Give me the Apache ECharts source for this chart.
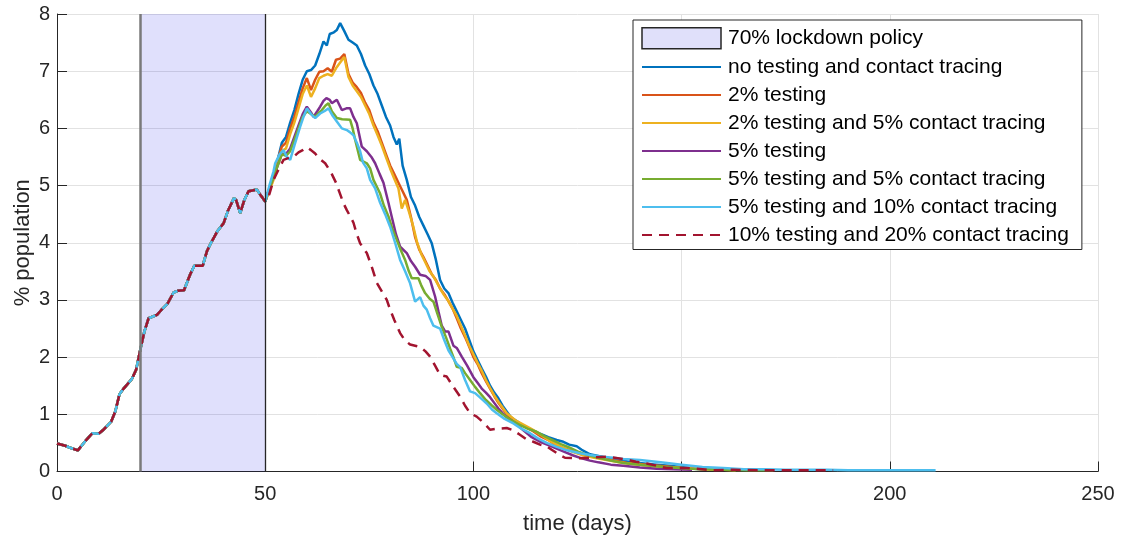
<!DOCTYPE html>
<html>
<head>
<meta charset="utf-8">
<script src="https://cdn.jsdelivr.net/npm/echarts@6/dist/echarts.min.js"></script>
<style>
html,body{margin:0;padding:0;background:#fff;}
#chart{width:1129px;height:541px;}
</style>
</head>
<body>
<div id="chart"></div>
<script>
// x ticks / y ticks
var xTicks = [0, 50, 100, 150, 200, 250];
var yTicks = [0, 1, 2, 3, 4, 5, 6, 7, 8];
var lockdown = [20, 50];

var names = [
    '70% lockdown policy',
    'no testing and contact tracing',
    '2% testing',
    '2% testing and 5% contact tracing',
    '5% testing',
    '5% testing and 5% contact tracing',
    '5% testing and 10% contact tracing',
    '10% testing and 20% contact tracing'
];

// shared part, before intervention (days 0-50)
var common = [[0,0.49],[2,0.45],[3,0.42],[5,0.37],[6,0.46],[7,0.55],[8.5,0.67],[10,0.66],[11,0.72],[13,0.87],[14,1.05],
    [15,1.35],[16,1.45],[18,1.62],[19,1.78],[20,2.13],[21,2.45],[22,2.68],[24,2.74],[25,2.82],[26.5,2.93],[28,3.13],
    [29,3.16],[30.5,3.17],[32,3.45],[33,3.6],[35,3.6],[36,3.85],[37,4.0],[38.5,4.2],[40,4.34],[41,4.55],[42.5,4.78],
    [43,4.75],[44,4.52],[45,4.75],[46,4.9],[48,4.93],[49,4.82],[50,4.72]];

var noTesting = [[51,4.95],[52,5.2],[53,5.45],[54,5.75],[55,5.85],[56,6.1],[57,6.32],[58,6.6],[59,6.85],[60,7.0],[61,7.02],
    [62,7.1],[63,7.3],[64,7.52],[64.8,7.45],[65.5,7.65],[66.5,7.68],[67.2,7.72],[68,7.84],[69,7.7],[70,7.55],[71,7.5],
    [72,7.45],[73,7.3],[74,7.1],[75,6.95],[76,6.75],[77,6.6],[78,6.4],[79,6.2],[80,6.05],[80.8,5.85],[81.6,5.72],[82.2,5.82],
    [83,5.35],[84,5.1],[85,4.8],[86,4.65],[87,4.45],[88,4.3],[89,4.15],[90,3.99],[91,3.7],[92,3.35],[93,3.2],[94,3.12],
    [95,2.95],[96,2.8],[97,2.65],[98,2.5],[99,2.3],[100,2.1],[101,1.95],[102,1.8],[103,1.66],[104,1.5],[105,1.38],[106,1.28],
    [107,1.15],[108,1.05],[109,0.95],[110,0.9],[111,0.85],[112,0.8],[114,0.73],[116,0.66],[118,0.6],[120,0.55],[121.6,0.52],
    [123,0.47],[124.8,0.44],[126,0.38],[128,0.3],[130,0.27],[132,0.24],[135,0.2],[138,0.16],[141,0.14],[144,0.12],[147,0.1],
    [150,0.08],[153,0.05],[156,0.03]];

var test2 = [[51,4.95],[52,5.15],[53,5.45],[54,5.68],[55,5.75],[56,6.0],[57,6.2],[58,6.45],[59,6.7],[60,6.88],[61,6.67],
    [62,6.85],[63,6.99],[64,7.0],[65,7.05],[66,6.99],[67,7.2],[68,7.22],[69,7.3],[70,6.95],[71,6.8],[72,6.72],[73,6.62],
    [74,6.45],[75,6.32],[76,6.1],[77,5.95],[78,5.75],[79,5.55],[80,5.35],[81,5.2],[82,5.05],[83,4.9],[84,4.75],[85,4.45],
    [86,4.1],[87,3.88],[88,3.75],[89,3.6],[90,3.45],[91,3.35],[92,3.2],[93,3.1],[94,2.98],[95,2.85],[96,2.68],[97,2.5],
    [98,2.35],[99,2.18],[100,2.0],[101,1.88],[102,1.72],[103,1.58],[104,1.45],[105,1.32],[106,1.2],[107,1.1],[108,1.0],
    [109,0.93],[110,0.87],[112,0.8],[114,0.72],[116,0.62],[118,0.55],[120,0.45],[122,0.4],[124,0.35],[126,0.3],[128,0.27],
    [131,0.23],[134,0.19],[137,0.15],[140,0.13],[143,0.11],[146,0.09],[150,0.06],[154,0.05],[158,0.03],[160,0.03]];

var test2ct5 = [[51,4.9],[52,5.1],[53,5.4],[54,5.6],[55,5.65],[56,5.9],[57,6.1],[58,6.35],[59,6.6],[60,6.75],[61,6.55],
    [62,6.7],[63,6.88],[64,6.92],[65,6.95],[66,6.92],[67,7.05],[68,7.15],[69,7.25],[70,6.9],[71,6.75],[72,6.65],[73,6.55],
    [74,6.4],[75,6.25],[76,6.05],[77,5.88],[78,5.7],[79,5.5],[80,5.3],[81,5.12],[82,4.95],[82.8,4.6],[83.6,4.75],[84.5,4.55],
    [85.5,4.3],[86.5,4.0],[87.5,3.8],[88.5,3.65],[89.5,3.5],[90.5,3.4],[92,3.2],[93,3.08],[94,2.98],[95,2.85],[96,2.72],
    [97,2.55],[98,2.38],[99,2.2],[100,2.05],[101,1.9],[102,1.76],[103,1.6],[104,1.46],[105,1.33],[106,1.22],[107,1.12],
    [108,1.02],[110,0.9],[112,0.82],[114,0.74],[116,0.65],[118,0.55],[120,0.47],[122,0.4],[124,0.34],[126,0.29],[129,0.24],
    [132,0.2],[135,0.16],[138,0.13],[141,0.11],[145,0.08],[150,0.06],[155,0.04],[160,0.03],[163,0.02]];

var test5 = [[51,4.95],[52,5.15],[53,5.35],[54,5.55],[55,5.55],[56,5.65],[57,5.85],[58,6.05],[59,6.25],[60,6.38],[61,6.28],
    [61.6,6.2],[62.5,6.3],[63.2,6.38],[64,6.48],[64.7,6.53],[65.5,6.5],[66,6.44],[67.2,6.5],[68.4,6.32],[69.5,6.35],
    [70.4,6.35],[71.2,6.2],[72,6.09],[73.2,5.68],[74.4,5.6],[75.5,5.5],[76.4,5.39],[77.5,5.2],[78.4,5.05],[79.6,4.7],
    [80.4,4.45],[81.4,4.15],[82.4,3.93],[84,3.82],[85,3.68],[86,3.58],[87.2,3.44],[88.5,3.42],[89.6,3.35],[90.8,3.06],
    [91.6,2.8],[92.4,2.55],[93.2,2.45],[94,2.45],[95.2,2.2],[96,2.16],[97.2,2.01],[98.5,1.85],[100,1.65],[101,1.55],
    [102,1.45],[103,1.38],[104,1.3],[105,1.2],[106,1.1],[107,1.02],[108,0.95],[110,0.85],[112,0.72],[114,0.6],[116,0.52],
    [118,0.46],[120,0.4],[122,0.34],[124,0.28],[126,0.23],[128,0.19],[130,0.16],[133,0.12],[136,0.1],[140,0.07],[144,0.05],
    [148,0.04],[152.5,0.03]];

var test5ct5 = [[51,4.95],[52,5.15],[53,5.35],[54,5.55],[55,5.52],[56,5.6],[57,5.8],[58,6.0],[59,6.2],[60,6.3],[61,6.25],
    [62,6.2],[63,6.28],[63.6,6.32],[64.5,6.4],[65.2,6.44],[66,6.3],[67.2,6.18],[68.5,6.16],[70.4,6.15],[71,6.0],[71.6,5.8],
    [72.8,5.45],[74.4,5.39],[75.2,5.3],[76,5.1],[77.6,4.86],[78.5,4.65],[79.6,4.46],[80.5,4.25],[81.6,4.05],[82.5,3.88],
    [83.6,3.7],[84.5,3.5],[85.2,3.38],[86.8,3.38],[87.5,3.25],[88.4,3.12],[89.5,3.02],[90.4,2.97],[91.4,2.75],[92.4,2.53],
    [93.4,2.35],[94.4,2.15],[95.2,2.0],[96,1.83],[97.2,1.81],[98,1.72],[99.2,1.6],[100.4,1.48],[101.6,1.37],[103,1.25],
    [104.5,1.15],[105.6,1.08],[107,1.0],[109,0.9],[111,0.82],[113,0.75],[115,0.7],[117,0.62],[119,0.55],[121,0.48],[123,0.42],
    [125,0.35],[127,0.3],[130,0.24],[133,0.19],[136,0.15],[140,0.12],[144,0.09],[148,0.07],[152,0.05],[156,0.04],[160,0.03],
    [166,0.02],[172,0.02]];

var test5ct10 = [[51,5.0],[52,5.25],[52.4,5.39],[53.5,5.55],[54.4,5.62],[55.2,5.5],[56,5.45],[57,5.7],[58.4,6.03],[59.2,6.2],
    [60,6.35],[61,6.25],[62,6.18],[63.2,6.26],[64.2,6.3],[65.2,6.35],[66.2,6.22],[67.2,6.12],[68.4,6.0],[69.6,5.97],[70.4,5.93],
    [71.2,5.88],[72,5.75],[72.8,5.6],[73.5,5.4],[74.4,5.3],[75.2,5.1],[76.4,4.95],[77.6,4.7],[78.8,4.5],[80,4.28],[81.2,4.0],
    [82.4,3.7],[83.6,3.5],[84.8,3.29],[86,2.97],[87.2,3.05],[88,2.9],[88.8,2.83],[89.6,2.68],[90.4,2.55],[92,2.5],[93,2.3],
    [94,2.12],[95,2.0],[96,1.88],[96.8,1.83],[98,1.6],[99.2,1.4],[100.4,1.37],[101.5,1.3],[103.2,1.19],[104.5,1.08],
    [105.6,1.02],[107.5,0.92],[109.6,0.84],[111.5,0.75],[113.6,0.67],[115.5,0.58],[117.6,0.5],[120,0.43],[122.5,0.37],
    [125.6,0.32],[128,0.29],[131,0.26],[133.6,0.24],[136,0.22],[140,0.2],[145,0.16],[150,0.12],[155,0.08],[160,0.06],
    [165,0.04],[170,0.04],[175,0.03],[180,0.03],[185,0.03],[190,0.02],[195,0.02],[200,0.02],[205,0.02],[211,0.02]];

var test10ct20 = [[51,4.85],[52,5.1],[53,5.25],[54.4,5.45],[55.5,5.48],[56.8,5.5],[58,5.58],[59,5.62],[60,5.67],[61,5.62],
    [62,5.56],[63,5.47],[64.4,5.39],[65.2,5.3],[66,5.2],[67,5.05],[68,4.85],[68.8,4.69],[69.6,4.57],[70.5,4.45],[71.2,4.35],
    [72,4.15],[72.8,3.99],[73.6,3.9],[74.4,3.82],[75.5,3.6],[76.8,3.3],[78,3.15],[79.2,3.0],[80,2.83],[81,2.65],[82.4,2.42],
    [83.5,2.3],[84.8,2.22],[86,2.2],[87.2,2.18],[88.5,2.1],[89.6,2.01],[90.8,1.85],[92,1.69],[93.6,1.66],[95,1.5],[96.8,1.31],
    [98,1.15],[99.2,1.02],[100.8,0.96],[102.5,0.85],[104,0.73],[106,0.75],[108,0.76],[109.6,0.72],[111,0.65],[112.8,0.56],
    [114.4,0.52],[116,0.47],[117.6,0.44],[118.8,0.38],[120.5,0.3],[122,0.24],[124.8,0.23],[128,0.24],[132,0.26],[136.8,0.21],
    [139,0.17],[141.6,0.14],[144,0.1],[146.4,0.06],[151.2,0.06],[155,0.04],[157.6,0.02],[162.4,0.03],[170,0.02],[178,0.02],
    [186.4,0.02]];

var colors = ['#0072BD', '#D95319', '#EDB120', '#7E2F8E', '#77AC30', '#4DBEEE', '#A2142F'];
var curves = [noTesting, test2, test2ct5, test5, test5ct5, test5ct10, test10ct20];

var fontFam = '"Liberation Sans", Arial, Helvetica, sans-serif';
var txt = '#262626';

var myChart = echarts.init(document.getElementById('chart'));

var series = [{
    name: names[0],
    type: 'line',
    data: [],
    color: '#e0e0fa',
    z: 1,
    markArea: {
        silent: true,
        itemStyle: {color: 'rgba(0,0,230,0.12)'},
        data: [[{xAxis: lockdown[0]}, {xAxis: lockdown[1]}]]
    },
    markLine: {
        silent: true,
        symbol: 'none',
        label: {show: false},
        data: [
            {xAxis: lockdown[0], lineStyle: {color: '#7a7a7a', width: 2.5, type: 'solid'}},
            {xAxis: lockdown[1], lineStyle: {color: '#262626', width: 1.3, type: 'solid'}}
        ]
    }
}];

for (var i = 0; i < curves.length; i++) {
    series.push({
        name: names[i + 1],
        type: 'line',
        data: common.concat(curves[i]),
        symbol: 'none',
        z: 3,
        color: colors[i],
        lineStyle: {
            width: 2.5,
            color: colors[i],
            type: i == 6 ? [10, 7] : 'solid'
        }
    });
}

// lockdown patch in legend, other entries only line (no symbol)
var legendData = [{
    name: names[0],
    icon: 'rect',
    itemStyle: {color: '#e0e0fa', borderColor: '#262626', borderWidth: 1.5, opacity: 1}
}];
for (var i = 1; i < names.length; i++) {
    legendData.push({name: names[i], itemStyle: {opacity: 0}});
}

var option = {
    animation: false,
    backgroundColor: '#fff',
    grid: {left: 57, top: 14, width: 1041, height: 457.5, containLabel: false},
    legend: {
        data: legendData,
        orient: 'vertical',
        left: 633,
        top: 20,
        itemWidth: 79,
        itemHeight: 21,
        itemGap: 7,
        padding: [7, 13, 4, 8],
        backgroundColor: '#fff',
        borderColor: '#262626',
        borderWidth: 1,
        borderRadius: 0,
        selectedMode: false,
        textStyle: {
            fontFamily: fontFam,
            fontSize: 21,
            color: '#000',
            lineHeight: 21,
            padding: [0, 0, 0, 2]
        }
    },
    xAxis: {
        type: 'value',
        min: 0,
        max: 250,
        interval: 50,
        name: 'time (days)',
        nameLocation: 'middle',
        nameGap: 41,
        nameMoveOverlap: false,
        nameTextStyle: {fontFamily: fontFam, fontSize: 22, color: txt},
        axisLine: {show: true, lineStyle: {color: txt, width: 1}},
        axisTick: {show: true, inside: true, length: 10, lineStyle: {color: txt}},
        axisLabel: {fontFamily: fontFam, fontSize: 20, color: txt, margin: 13},
        splitLine: {show: true, lineStyle: {color: '#e2e2e2', width: 1}}
    },
    yAxis: {
        type: 'value',
        min: 0,
        max: 8,
        interval: 1,
        name: '% population',
        nameLocation: 'middle',
        nameGap: 23,
        nameMoveOverlap: false,
        nameTextStyle: {fontFamily: fontFam, fontSize: 22, color: txt},
        axisLine: {show: true, lineStyle: {color: txt, width: 1}},
        axisTick: {show: true, inside: true, length: 10, lineStyle: {color: txt}},
        axisLabel: {fontFamily: fontFam, fontSize: 20, color: txt, margin: 7},
        splitLine: {show: true, lineStyle: {color: '#e2e2e2', width: 1}}
    },
    series: series
};
myChart.setOption(option);
</script>
</body>
</html>
